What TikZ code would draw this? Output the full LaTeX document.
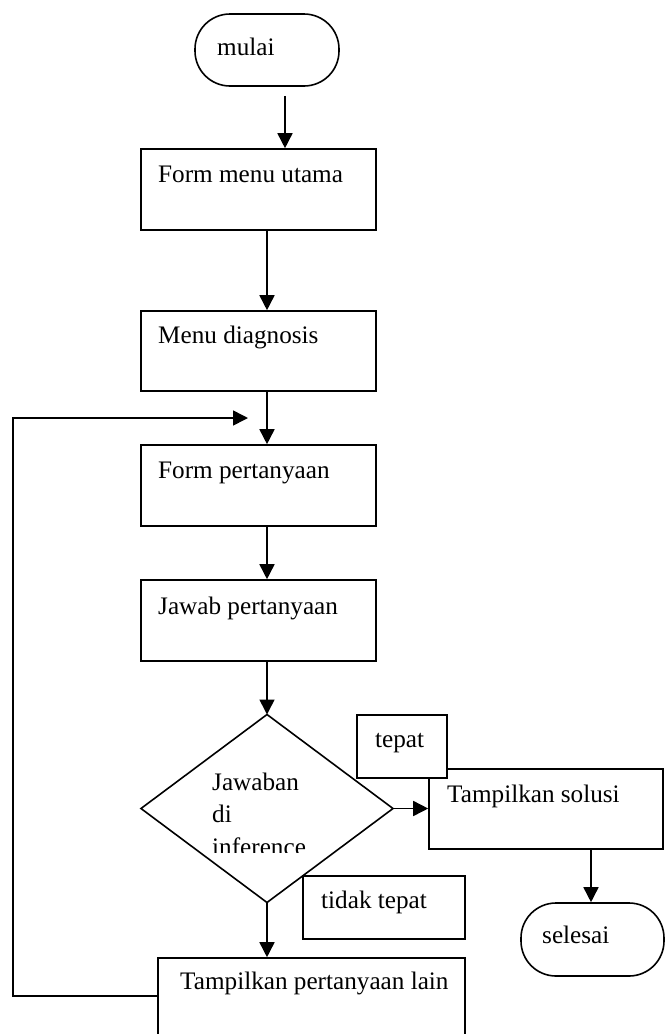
\documentclass[tikz,border=0pt]{standalone}
\usepackage{fontspec}
\setmainfont{Liberation Serif}
\usetikzlibrary{arrows.meta,shapes.geometric}
\begin{document}
\begin{tikzpicture}[x=1pt,y=-1pt,
  every node/.style={font=\fontsize{25.2}{33}\selectfont},
  box/.style={draw,line width=1.6pt,rectangle,inner sep=0pt,fill=white},
  term/.style={box,rounded corners=35pt},
  lbl/.style={inner sep=0pt,anchor=base west},
  arr/.style={line width=1.6pt,-{Triangle[length=15pt,width=15pt]}},
  line/.style={line width=1.6pt}]
\useasboundingbox (0,0) rectangle (671,1034);
\clip (0,0) rectangle (671,1034);

% start / end terminals
\node[term,minimum width=144pt,minimum height=72pt] (mulai) at (267,50) {};
\node[lbl] (tmulai) at (217,55) {mulai};

% main process boxes
\node[box,minimum width=235pt,minimum height=81pt] (form) at (258.5,189.5) {};
\node[lbl] (tform) at (158,182) {Form menu utama};
\node[box,minimum width=235pt,minimum height=80pt] (diag) at (258.5,351) {};
\node[lbl] (tdiag) at (158,343) {Menu diagnosis};
\node[box,minimum width=235pt,minimum height=81pt] (tanya) at (258.5,485.5) {};
\node[lbl] (ttanya) at (158,478) {Form pertanyaan};
\node[box,minimum width=235pt,minimum height=81pt] (jawab) at (258.5,620.5) {};
\node[lbl] (tjawab) at (158,614) {Jawab pertanyaan};

% decision
\node[draw,line width=1.6pt,diamond,inner sep=0pt,outer sep=0pt,
      minimum width=252pt,minimum height=188pt] (dec) at (267,808.5) {};
\begin{scope}
  \clip (200,760) rectangle (330,852);
  \node[lbl] (tdec1) at (212,790) {Jawaban};
  \node[lbl] (tdec2) at (212,822) {di};
  \node[lbl] (tdec3) at (212,855) {inference};
\end{scope}

% solution branch
\node[box,minimum width=234pt,minimum height=80pt] (solusi) at (546,809) {};
\node[lbl] (tsolusi) at (447,802) {Tampilkan solusi};
\node[box,minimum width=90pt,minimum height=63pt] (tepat) at (402,746.5) {};
\node[lbl] (ttepat) at (375,747) {tepat};
\node[term,minimum width=143pt,minimum height=73pt] (selesai) at (592.5,939.5) {};
\node[lbl] (tselesai) at (542,943) {selesai};

% other question branch
\node[box,minimum width=162pt,minimum height=63pt] (tidak) at (384,907.5) {};
\node[lbl] (ttidak) at (321,908) {tidak tepat};
\node[box,minimum width=307pt,minimum height=102pt] (lain) at (311.5,1009) {};
\node[lbl] (tlain) at (180,989) {Tampilkan pertanyaan lain};

% connectors
\draw[arr] ([xshift=18pt,yshift=-9pt]mulai.south) -- ([xshift=18pt]mulai.south |- form.north);
\draw[arr] ([xshift=8.5pt]form.south) -- ([xshift=8.5pt]diag.north);
\draw[arr] ([xshift=8.5pt]diag.south) -- ([xshift=8.5pt]tanya.north);
\draw[arr] ([xshift=8.5pt]tanya.south) -- ([xshift=8.5pt]jawab.north);
\draw[arr] ([xshift=8.5pt]jawab.south) -- (dec.north);
\draw[arr] (dec.east) -- (dec.east -| solusi.west);
\draw[arr] ([xshift=45pt]solusi.south) -- ([xshift=45pt]solusi.south |- selesai.north);
\draw[arr] (dec.south) -- (dec.south |- lain.north);

% loop back to the question form
\coordinate (looptip) at (248,418);
\draw[arr] ([yshift=-39pt]lain.north west) -- ++(-144,0) |- (looptip);
\end{tikzpicture}
\end{document}
